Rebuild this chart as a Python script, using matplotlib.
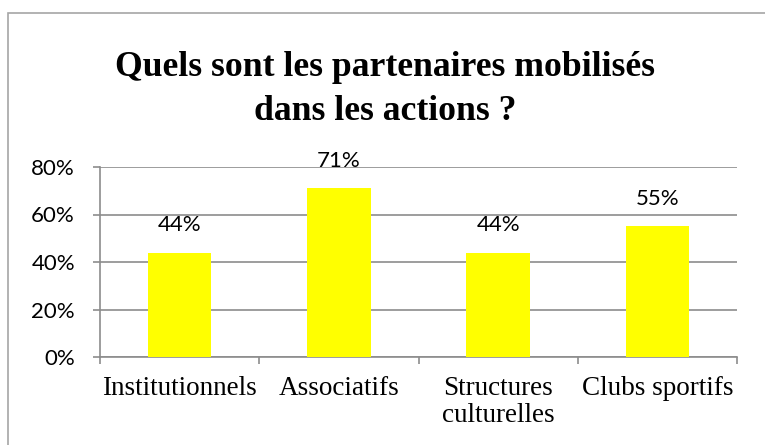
import matplotlib
matplotlib.use("Agg")
import matplotlib.pyplot as plt
from matplotlib.patches import Rectangle
from matplotlib.ticker import FixedLocator, FuncFormatter

# Données du graphique
categories = ["Institutionnels", "Associatifs", "Structures\nculturelles", "Clubs sportifs"]
values = [0.44, 0.71, 0.44, 0.55]
labels = ["44%", "71%", "44%", "55%"]
yticks = [0.0, 0.2, 0.4, 0.6, 0.8]

grey = "#8c8c8c"
yellow = "#ffff00"

fig = plt.figure(figsize=(7.65, 4.45), dpi=100)
fig.patch.set_facecolor("white")

# Cadre du graphique
fig.patches.append(Rectangle((8 / 765, -0.2), 1.2, 1.2 - 13 / 445,
                             transform=fig.transFigure, fill=False,
                             edgecolor="#a6a6a6", linewidth=1.2))

ax = fig.add_axes([100 / 765, 1 - 357 / 445, (737 - 100) / 765, (357 - 167) / 445])

x = range(len(categories))
ax.bar(x, values, width=0.4, color=yellow, zorder=3)

for i, (v, lab) in enumerate(zip(values, labels)):
    ax.annotate(lab, (i, v), xytext=(0, 20), textcoords="offset points",
                ha="center", va="center", fontsize=16, family="Lato", color="black")

ax.set_xlim(-0.5, len(categories) - 0.5)
ax.set_ylim(0, 0.8)

ax.yaxis.set_major_locator(FixedLocator(yticks))
ax.yaxis.set_major_formatter(FuncFormatter(lambda v, p: f"{v * 100:.0f}%"))
ax.grid(axis="y", color=grey, linewidth=1.2, zorder=0)
ax.tick_params(axis="y", length=5, width=1.2, color=grey, pad=13, labelsize=16)
for t in ax.get_yticklabels():
    t.set_family("Lato")

ax.set_xticks(list(x))
ax.set_xticklabels(categories, family="Liberation Serif", fontsize=19.5, linespacing=1.1)
ax.set_xticks([i - 0.5 for i in range(len(categories) + 1)], minor=True)
ax.tick_params(axis="x", which="major", length=0, pad=14)
ax.tick_params(axis="x", which="minor", length=5, width=1.2, color=grey)

for s in ["top", "right"]:
    ax.spines[s].set_visible(False)
for s in ["left", "bottom"]:
    ax.spines[s].set_color(grey)
    ax.spines[s].set_linewidth(1.2)

fig.text(385 / 765, 1 - 76 / 445, "Quels sont les partenaires mobilisés",
         ha="center", va="baseline", family="Liberation Serif", fontweight="bold", fontsize=25.7)
fig.text(385 / 765, 1 - 120 / 445, "dans les actions ?",
         ha="center", va="baseline", family="Liberation Serif", fontweight="bold", fontsize=25.7)

fig.savefig("out.png", dpi=100)
